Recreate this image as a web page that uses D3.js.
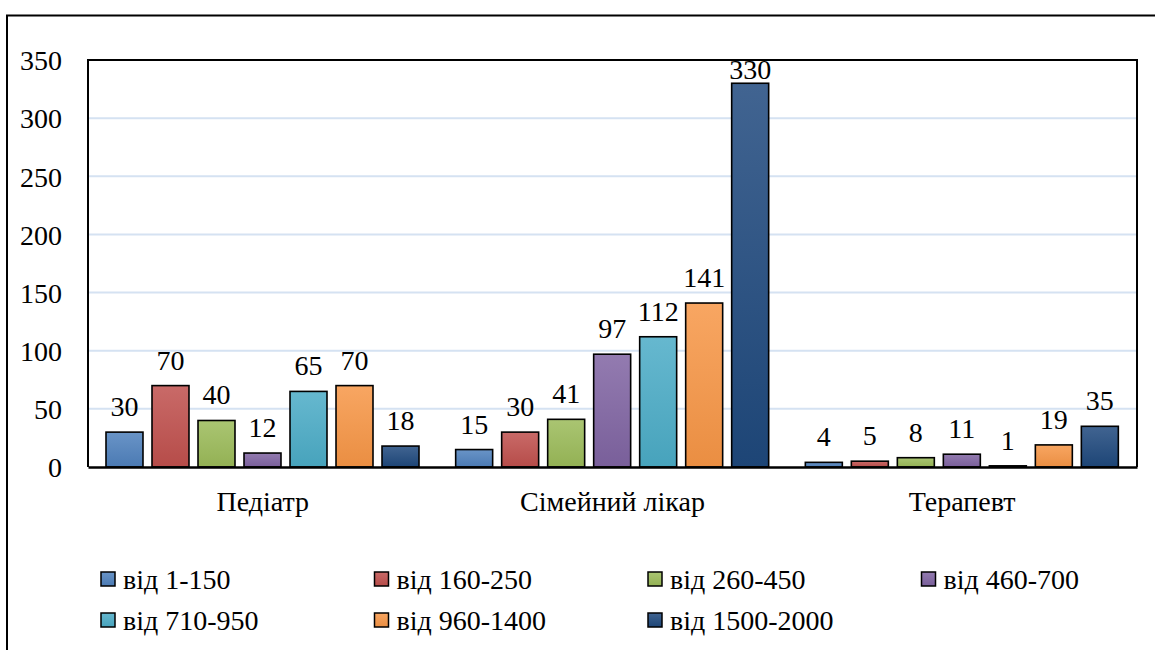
<!DOCTYPE html>
<html><head><meta charset="utf-8">
<script src="https://cdn.jsdelivr.net/npm/d3@7"></script>
<style>
@font-face { font-family: "ChartSerif"; src: local("Liberation Serif"), local("LiberationSerif"), local("Liberation Serif Regular"), local("Tinos"), local("Times New Roman"); }
</style>
</head><body style="margin:0">
<svg id="c" width="1155" height="650" style="display:block;background:#fff"></svg>
<script>
const categories = ["Педіатр", "Сімейний лікар", "Терапевт"];
const seriesNames = ["від 1-150", "від 160-250", "від 260-450", "від 460-700", "від 710-950", "від 960-1400", "від 1500-2000"];
const vals_1_150 = [30, 15, 4];
const vals_160_250 = [70, 30, 5];
const vals_260_450 = [40, 41, 8];
const vals_460_700 = [12, 97, 11];
const vals_710_950 = [65, 112, 1];
const vals_960_1400 = [70, 141, 19];
const vals_1500_2000 = [18, 330, 35];
const yTicks = [0, 50, 100, 150, 200, 250, 300, 350];
const colors = ["#4F81BD", "#C0504D", "#9BBB59", "#8064A2", "#4BACC6", "#F79646", "#1F497D"];

const seriesVals = [vals_1_150, vals_160_250, vals_260_450, vals_460_700, vals_710_950, vals_960_1400, vals_1500_2000];
const series = seriesNames.map((n, i) => ({name: n, values: seriesVals[i], color: colors[i]}));

const svg = d3.select("#c");
const FF = '"Liberation Serif", "ChartSerif", "Tinos", "Times New Roman", "DejaVu Serif", serif';
const L = 88, R = 1137, T = 60, B = 467;

const defs = svg.append("defs");
series.forEach((s, i) => {
  const g = defs.append("linearGradient").attr("id", "g" + i).attr("x1", 0).attr("y1", 0).attr("x2", 0).attr("y2", 1);
  g.append("stop").attr("offset", "0%").attr("stop-color", d3.interpolateRgb(s.color, "#fff")(0.15));
  g.append("stop").attr("offset", "100%").attr("stop-color", d3.color(s.color).darker(0.15));
});

svg.append("path").attr("d", `M7,655 V15.5 H1160`).attr("fill", "none").attr("stroke", "#000").attr("stroke-width", 2);

const y = d3.scaleLinear().domain([0, 350]).range([B, T]);
const x0 = d3.scaleBand().domain(categories).range([L, R]);
const x1 = d3.scaleBand().domain(seriesNames).range([18, 331]).paddingInner(0.196);

svg.append("g").selectAll("line").data(yTicks.filter(t => t > 0)).join("line")
  .attr("x1", L).attr("x2", R).attr("y1", d => y(d)).attr("y2", d => y(d))
  .attr("stroke", "#d5e2f2").attr("stroke-width", 2);

const yAxis = d3.axisLeft(y).tickValues(yTicks).tickSize(0).tickPadding(26);
const ya = svg.append("g").attr("transform", `translate(${L},0)`).call(yAxis);
ya.select(".domain").remove();
ya.attr("font-family", FF).attr("font-size", 28);
ya.selectAll("text").style("font-family", FF).attr("font-size", 28).attr("fill", "#000").attr("dy", "0.35em");

const groups = svg.append("g").selectAll("g").data(series).join("g");
groups.selectAll("rect").data((s, i) => s.values.map((v, j) => ({v, cat: categories[j], s, i}))).join("rect")
  .attr("x", d => x0(d.cat) + x1(d.s.name))
  .attr("y", d => y(d.v))
  .attr("width", x1.bandwidth())
  .attr("height", d => y(0) - y(d.v))
  .attr("fill", d => `url(#g${d.i})`)
  .attr("stroke", "#000").attr("stroke-width", 1.6);

groups.selectAll("text").data((s, i) => s.values.map((v, j) => ({v, cat: categories[j], s, i}))).join("text")
  .attr("x", d => x0(d.cat) + x1(d.s.name) + x1.bandwidth() / 2)
  .attr("y", d => Math.max(y(d.v) - 16, y(350) + 19))
  .attr("text-anchor", "middle").style("font-family", FF).attr("font-size", 28).attr("fill", "#000")
  .text(d => d.v);

svg.append("path").attr("d", `M${L},${B} V${T} H${R} V${B}`).attr("fill", "none").attr("stroke", "#000").attr("stroke-width", 2);
const xAxis = d3.axisBottom(x0).tickSize(0).tickPadding(24);
const xa = svg.append("g").attr("transform", `translate(0,${B})`).call(xAxis);
xa.attr("font-family", FF).attr("font-size", 28);
xa.select(".domain").attr("stroke", "#000").attr("stroke-width", 2.5);
xa.selectAll("text").style("font-family", FF).attr("font-size", 28).attr("fill", "#000");

const leg = svg.append("g").selectAll("g").data(series).join("g")
  .attr("transform", (d, i) => `translate(${101 + (i % 4) * 273.5},${572 + Math.floor(i / 4) * 41})`);
leg.append("rect").attr("width", 14).attr("height", 14).attr("fill", (d, i) => `url(#g${i})`)
  .attr("stroke", "#000").attr("stroke-width", 1.5);
leg.append("text").attr("x", 22).attr("y", 7).attr("dy", "0.35em")
  .style("font-family", FF).attr("font-size", 28).attr("fill", "#000").text(d => d.name);
</script>
</body></html>
